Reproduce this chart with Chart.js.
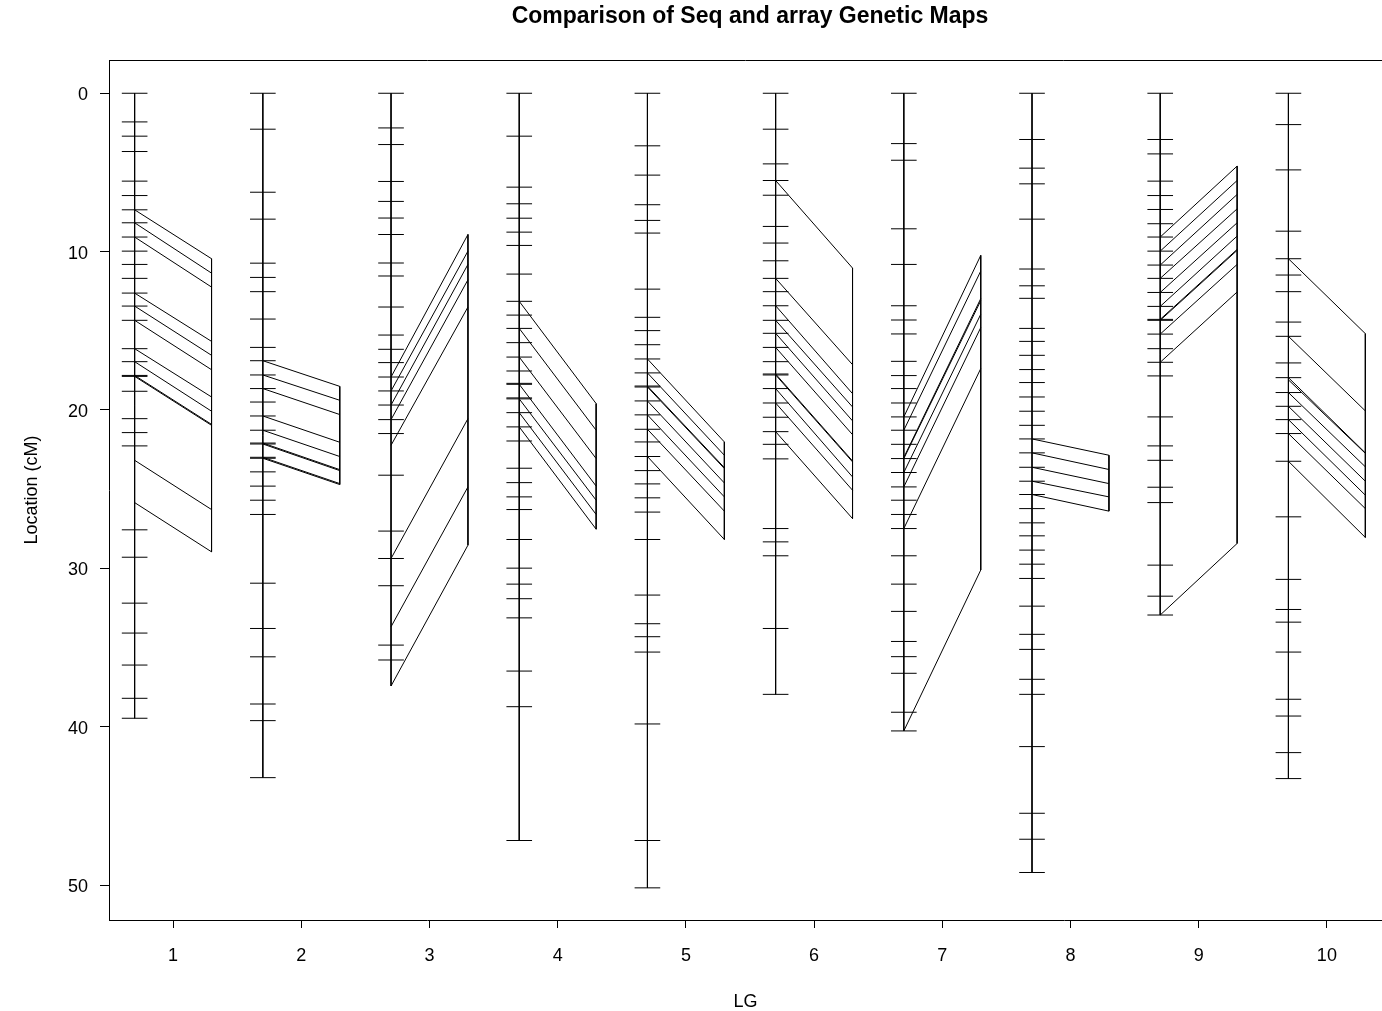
<!DOCTYPE html>
<html>
<head>
<meta charset="utf-8">
<title>Comparison of Seq and array Genetic Maps</title>
<script src="https://cdn.jsdelivr.net/npm/chart.js@4.4.1/dist/chart.umd.min.js"></script>
<style>
  html, body { margin: 0; padding: 0; background: #fff; overflow: hidden; }
  #wrap { width: 1382px; height: 1011px; }
</style>
</head>
<body>
<div id="wrap"><canvas id="mapChart" width="1382" height="1011"></canvas></div>
<script>
// linkage groups on the x axis
const lgs = [1, 2, 3, 4, 5, 6, 7, 8, 9, 10];
const yTicks = [0, 10, 20, 30, 40, 50];

// marker positions (cM) on the seq map, one list per LG
const seqTicks = [
  [0, 1.81, 2.71, 3.68, 5.55, 6.46, 7.36, 8.18, 9.08, 9.97, 10.81, 11.69, 12.62, 13.44, 14.34, 16.13, 16.95, 17.82, 17.88, 18.82, 20.55, 21.43, 22.27, 27.57, 29.30, 32.20, 34.09, 36.11, 38.21, 39.47],
  [0, 2.27, 6.25, 7.95, 10.73, 11.63, 12.53, 14.26, 16.05, 16.89, 17.79, 18.65, 19.50, 20.38, 21.28, 22.09, 22.15, 22.99, 23.05, 23.91, 24.81, 25.70, 26.60, 30.94, 33.80, 35.59, 38.57, 39.62, 43.22],
  [0, 2.19, 3.24, 5.57, 6.83, 7.88, 8.92, 10.72, 11.54, 13.50, 15.27, 16.17, 17.01, 17.92, 18.80, 19.69, 20.61, 21.49, 24.12, 27.65, 29.38, 31.10, 34.85, 35.79],
  [0, 2.71, 5.93, 6.98, 7.89, 8.77, 9.61, 11.42, 13.14, 14.01, 14.85, 15.75, 16.66, 17.54, 18.32, 18.38, 19.24, 19.30, 20.17, 21.07, 21.96, 23.68, 24.59, 25.49, 26.29, 28.18, 29.99, 31.0, 31.92, 33.13, 36.49, 38.74, 47.19],
  [0, 3.32, 5.17, 7.04, 8.03, 8.83, 12.37, 14.15, 14.99, 15.88, 16.78, 17.66, 18.49, 18.55, 19.43, 20.31, 21.22, 22.02, 22.94, 23.83, 24.67, 25.55, 26.45, 28.18, 31.69, 33.50, 34.32, 35.29, 39.83, 47.19, 50.18],
  [0, 2.27, 4.46, 5.51, 6.44, 8.41, 9.46, 10.58, 11.69, 12.53, 13.42, 14.34, 15.16, 16.05, 16.95, 17.73, 17.79, 18.65, 19.56, 20.46, 21.37, 22.17, 23.09, 27.49, 28.33, 29.21, 33.80, 37.96],
  [0, 3.18, 4.23, 8.56, 10.81, 13.42, 14.32, 15.20, 16.93, 17.83, 18.65, 19.56, 20.44, 21.28, 22.17, 23.07, 23.95, 24.86, 25.70, 26.60, 27.49, 29.21, 31.0, 32.72, 34.62, 35.58, 36.63, 39.09, 40.27],
  [0, 2.92, 4.73, 5.72, 7.95, 11.10, 12.16, 12.95, 14.85, 15.67, 16.55, 17.45, 18.27, 19.18, 20.08, 20.97, 21.83, 22.71, 23.62, 24.50, 25.34, 26.23, 27.13, 27.95, 28.85, 29.74, 30.64, 32.39, 34.17, 35.12, 37.01, 37.96, 41.26, 45.47, 47.11, 49.21],
  [0, 2.92, 3.83, 5.55, 6.46, 7.34, 8.24, 9.08, 9.97, 10.85, 11.69, 12.58, 13.46, 14.28, 14.34, 15.21, 16.13, 16.99, 17.85, 20.44, 22.27, 23.18, 24.88, 25.85, 29.80, 31.76, 32.95],
  [0, 1.98, 4.84, 8.71, 10.45, 11.48, 12.53, 14.45, 15.35, 17.03, 17.96, 18.90, 19.77, 20.61, 21.49, 23.24, 26.75, 30.70, 32.60, 33.40, 35.29, 38.27, 39.33, 41.64, 43.28]
];

// shared markers: position on seq map (from) and on array map (to)
const linkFrom = [
  [7.36, 8.18, 9.08, 12.62, 13.44, 14.34, 16.13, 16.95, 17.82, 17.88, 23.18, 25.85],
  [16.89, 17.79, 18.65, 20.38, 21.28, 22.09, 22.15, 22.99, 23.05],
  [17.92, 18.80, 19.69, 20.61, 22.23, 29.38, 33.69, 37.43],
  [13.14, 14.85, 16.66, 18.38, 19.30, 20.17, 21.07],
  [16.78, 17.66, 18.49, 18.55, 19.43, 20.31, 21.22, 22.94],
  [5.51, 11.69, 13.42, 14.34, 15.16, 16.05, 17.73, 17.79, 18.65, 19.56, 21.37],
  [20.44, 21.28, 23.0, 23.07, 23.95, 24.86, 27.49, 40.27],
  [21.83, 22.71, 23.62, 24.50, 25.34],
  [9.08, 9.97, 10.85, 11.69, 12.58, 13.46, 14.28, 14.34, 15.21, 16.99, 32.95],
  [10.45, 15.35, 17.96, 18.10, 18.90, 19.77, 20.61, 21.49, 23.24]
];
const linkTo = [
  [10.45, 11.36, 12.24, 15.67, 16.55, 17.46, 19.18, 20.08, 20.91, 20.97, 26.29, 28.96],
  [18.51, 19.39, 20.29, 22.04, 22.94, 23.77, 23.83, 24.65, 24.71],
  [8.92, 9.97, 10.81, 11.78, 13.50, 20.55, 24.86, 28.54],
  [19.60, 21.28, 23.07, 24.81, 25.70, 26.60, 27.53],
  [22.02, 22.86, 23.64, 23.70, 24.61, 25.49, 26.39, 28.18],
  [11.04, 17.14, 18.97, 19.81, 20.69, 21.56, 23.22, 23.28, 24.23, 25.07, 26.86],
  [10.24, 11.23, 12.97, 13.10, 13.96, 14.80, 17.39, 30.11],
  [22.86, 23.76, 24.65, 25.49, 26.39],
  [4.60, 5.51, 6.39, 7.30, 8.18, 9.02, 9.86, 9.92, 10.81, 12.55, 28.43],
  [15.18, 20.06, 22.71, 22.74, 23.59, 24.50, 25.38, 26.23, 28.05]
];

const titleText = 'Comparison of Seq and array Genetic Maps';
const fontFamily = '"Liberation Sans", Arial, sans-serif';

const leftOff = -0.3;   // seq map column
const rightOff = 0.3;   // array map column
const tickHalf = 0.1;

const segments = (list) => {
  const out = [];
  list.forEach((s) => {
    out.push({ x: s[0], y: s[1] }, { x: s[2], y: s[3] }, { x: null, y: null });
  });
  return out;
};

const axisSegs = [];
const tickSegs = [];
const linkSegs = [];
lgs.forEach((lg, i) => {
  const xl = lg + leftOff;
  const xr = lg + rightOff;
  const leftEnd = Math.max(...seqTicks[i], ...linkFrom[i]);
  axisSegs.push([xl, 0, xl, leftEnd]);
  axisSegs.push([xr, Math.min(...linkTo[i]), xr, Math.max(...linkTo[i])]);
  seqTicks[i].forEach((v) => tickSegs.push([xl - tickHalf, v, xl + tickHalf, v]));
  linkFrom[i].forEach((v, j) => linkSegs.push([xl, v, xr, linkTo[i][j]]));
});

const lineSet = (label, list) => ({
  label,
  data: segments(list),
  showLine: true,
  spanGaps: false,
  borderColor: '#000',
  borderWidth: 1,
  pointRadius: 0,
  pointHoverRadius: 0,
  fill: false
});

const framePlugin = {
  id: 'frame',
  afterDraw(chart) {
    const { ctx, chartArea: a } = chart;
    ctx.save();
    ctx.strokeStyle = '#000';
    ctx.lineWidth = 1;
    ctx.beginPath();
    ctx.moveTo(a.left, Math.round(a.top) + 0.5);
    ctx.lineTo(a.right, Math.round(a.top) + 0.5);
    ctx.stroke();
    ctx.fillStyle = '#000';
    ctx.font = 'bold 23px ' + fontFamily;
    ctx.textAlign = 'center';
    ctx.textBaseline = 'middle';
    ctx.fillText(titleText, 750, 17);
    ctx.restore();
  }
};

new Chart(document.getElementById('mapChart'), {
  type: 'scatter',
  data: {
    datasets: [
      lineSet('maps', axisSegs),
      lineSet('markers', tickSegs),
      lineSet('links', linkSegs)
    ]
  },
  options: {
    responsive: false,
    maintainAspectRatio: false,
    devicePixelRatio: 1,
    animation: false,
    events: [],
    layout: { padding: { top: 60, right: 0, bottom: 0, left: 0 } },
    plugins: {
      legend: { display: false },
      title: { display: false },
      tooltip: { enabled: false }
    },
    scales: {
      x: {
        type: 'linear',
        position: 'bottom',
        min: 0.5,
        max: 10.43,
        afterBuildTicks: (s) => { s.ticks = lgs.map((v) => ({ value: v })); },
        afterFit: (s) => { s.height = 91; },
        ticks: {
          color: '#000',
          font: { family: fontFamily, size: 18 },
          padding: 17,
          autoSkip: false,
          maxRotation: 0,
          callback: (v) => String(v)
        },
        grid: { drawOnChartArea: false, drawTicks: true, tickLength: 8, color: '#000' },
        border: { display: true, color: '#000', width: 1 },
        title: {
          display: true,
          text: 'LG',
          color: '#000',
          font: { family: fontFamily, size: 18 },
          padding: { top: 0, bottom: -2 }
        }
      },
      y: {
        type: 'linear',
        reverse: true,
        min: -2.1,
        max: 52.21,
        afterBuildTicks: (s) => { s.ticks = yTicks.map((v) => ({ value: v })); },
        afterFit: (s) => { s.width = 109; },
        ticks: {
          color: '#000',
          font: { family: fontFamily, size: 18 },
          padding: 12,
          labelOffset: 2,
          callback: (v) => String(v)
        },
        grid: { drawOnChartArea: false, drawTicks: true, tickLength: 9, color: '#000' },
        border: { display: true, color: '#000', width: 1 },
        title: {
          display: true,
          text: 'Location (cM)',
          color: '#000',
          font: { family: fontFamily, size: 18 },
          padding: { top: 21, bottom: 0 }
        }
      }
    }
  },
  plugins: [framePlugin]
});
</script>
</body>
</html>
